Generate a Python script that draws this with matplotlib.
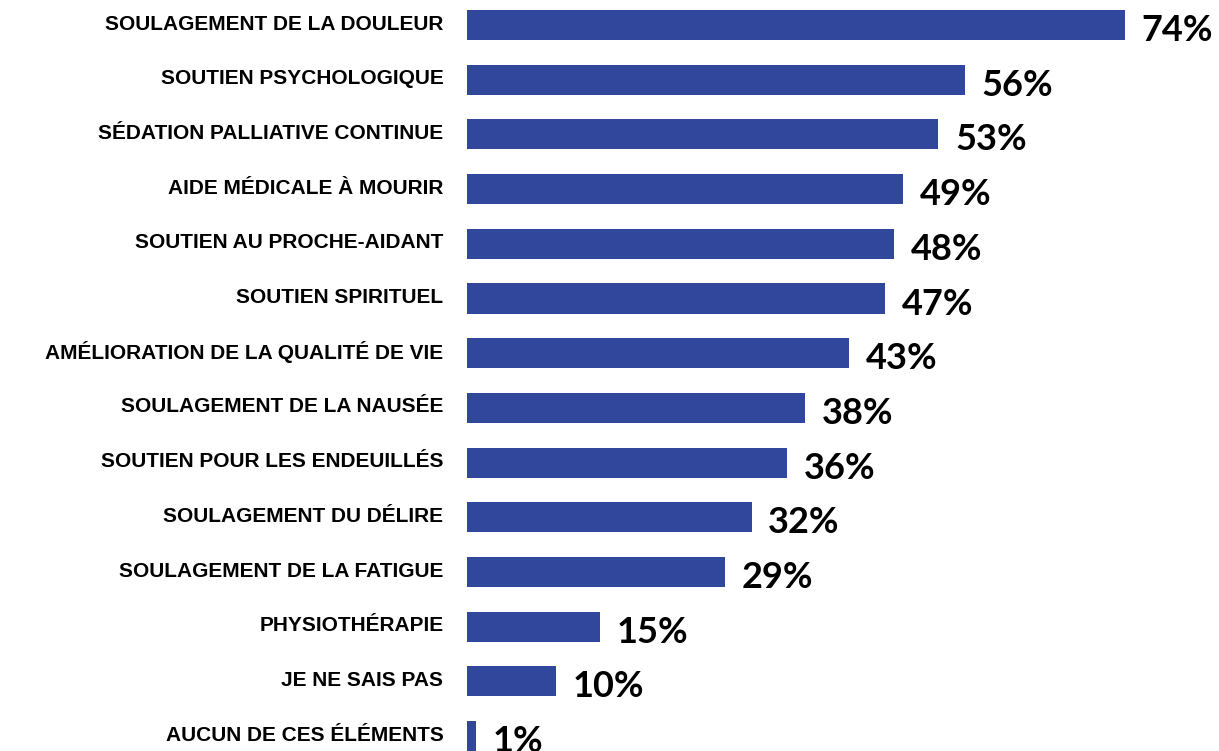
import matplotlib
matplotlib.use("Agg")
import matplotlib.pyplot as plt
import matplotlib.transforms as mtransforms

categories = [
    "SOULAGEMENT DE LA DOULEUR",
    "SOUTIEN PSYCHOLOGIQUE",
    "SÉDATION PALLIATIVE CONTINUE",
    "AIDE MÉDICALE À MOURIR",
    "SOUTIEN AU PROCHE-AIDANT",
    "SOUTIEN SPIRITUEL",
    "AMÉLIORATION DE LA QUALITÉ DE VIE",
    "SOULAGEMENT DE LA NAUSÉE",
    "SOUTIEN POUR LES ENDEUILLÉS",
    "SOULAGEMENT DU DÉLIRE",
    "SOULAGEMENT DE LA FATIGUE",
    "PHYSIOTHÉRAPIE",
    "JE NE SAIS PAS",
    "AUCUN DE CES ÉLÉMENTS",
]
values = [74, 56, 53, 49, 48, 47, 43, 38, 36, 32, 29, 15, 10, 1]
value_labels = [f"{v}%" for v in values]

W, H = 1219, 751
fig = plt.figure(figsize=(W / 100, H / 100), dpi=100)
left_px = 467
ax = fig.add_axes([left_px / W, 0, 1 - left_px / W, 1])

color = "#31479B"
ypos = list(range(len(categories)))
ax.barh(ypos, values, height=0.55, color=color)

px_per_unit = (1125 - 467) / 74
ax.set_xlim(0, (W - left_px) / px_per_unit)
spacing = 54.7
ax.set_ylim((H - 25) / spacing, -25 / spacing)

ax.set_yticks(ypos)
ax.set_yticklabels(categories, fontfamily="Liberation Sans", fontweight="bold", fontsize=15)
ax.tick_params(axis="y", length=0, pad=17)
shift = mtransforms.ScaledTranslation(0, 3 / 100, fig.dpi_scale_trans)
for lbl in ax.get_yticklabels():
    lbl.set_transform(lbl.get_transform() + shift)
ax.set_xticks([])
for s in ax.spines.values():
    s.set_visible(False)

for y, v, lab in zip(ypos, values, value_labels):
    ax.annotate(lab, xy=(v, y), xytext=(12, -4), textcoords="offset points",
                ha="left", va="center", fontsize=26, fontweight="bold",
                fontfamily="Lato", color="black")

fig.savefig("out.png", dpi=100)
